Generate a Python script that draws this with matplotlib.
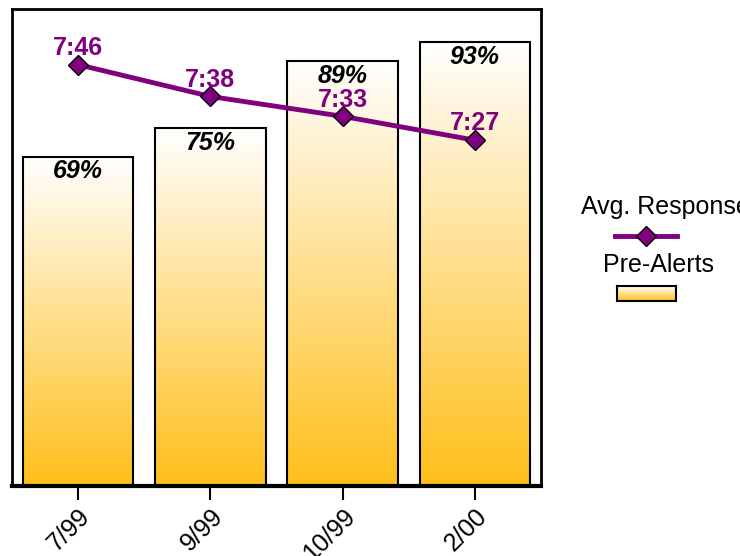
import matplotlib.pyplot as plt
import numpy as np
from matplotlib.lines import Line2D
from matplotlib.colors import LinearSegmentedColormap

plt.rcParams['font.family'] = ['Liberation Sans', 'DejaVu Sans']

months = ['7/99', '9/99', '10/99', '2/00']
pre_alerts = [69, 75, 89, 93]
avg_response = ['7:46', '7:38', '7:33', '7:27']

def to_sec(t):
    m, s = t.split(':')
    return int(m)*60 + int(s)

resp_sec = [to_sec(t) for t in avg_response]
purple = '#800080'
cmap = LinearSegmentedColormap.from_list('grad', ['#FFFFFF', '#FFBF1A'])

fig = plt.figure(figsize=(7.4, 5.56), dpi=100)
ax = fig.add_axes([12/740, 70/556, 529/740, 477/556])
x = np.arange(len(months))

bars = ax.bar(x, pre_alerts, width=0.835, facecolor='none', edgecolor='black', linewidth=1.5, zorder=3)
# white at top, orange at bottom of each bar
grad = np.linspace(0, 1, 256).reshape(-1, 1)
for b in bars:
    x0, y0, w, h = b.get_x(), b.get_y(), b.get_width(), b.get_height()
    im = ax.imshow(grad, cmap=cmap, aspect='auto', origin='upper',
                   extent=[x0, x0+w, y0, y0+h], zorder=2)
    im.set_clip_path(b)

for xi, v in zip(x, pre_alerts):
    ax.text(xi, v - 0.5, f'{v}%', ha='center', va='top', fontsize=18, fontweight='bold',
            fontstyle='italic', color='black', zorder=5)

ax.set_xlim(-0.5, 3.5)
ax.set_ylim(0, 100)
ax.set_xticks(x)
ax.set_xticklabels(months, rotation=45, ha='right', rotation_mode='anchor', fontsize=18)
ax.tick_params(axis='x', length=10, width=1.5, pad=3)
ax.set_yticks([])
for s in ax.spines.values():
    s.set_linewidth(2)
ax.spines['bottom'].set_linewidth(3)

ax2 = ax.twinx()
ax2.set_ylim(360, 480)
ax2.plot(x, resp_sec, color=purple, linewidth=3.5, marker='D', markersize=10,
         markerfacecolor=purple, markeredgecolor='black', markeredgewidth=1, zorder=6)
for xi, v, lab in zip(x, resp_sec, avg_response):
    ax2.annotate(lab, (xi, v), xytext=(0, 7), textcoords='offset points', ha='center', va='baseline',
                 fontsize=18, fontweight='bold', color=purple, zorder=7)
ax2.set_yticks([])
ax2.set_xlim(-0.5, 3.5)
for s in ax2.spines.values():
    s.set_visible(False)

# legend, labels above handles
fig.text(581/740, 1 - 207/556, 'Avg. Response', ha='left', va='center', fontsize=18)
fig.add_artist(Line2D([615/740, 677/740], [1 - 236/556]*2, color=purple, linewidth=3.5))
fig.add_artist(Line2D([646/740], [1 - 236/556], marker='D', markersize=10, color=purple,
                      markeredgecolor='black', markeredgewidth=1))
fig.text(603/740, 1 - 265/556, 'Pre-Alerts', ha='left', va='center', fontsize=18)
leg_box = fig.add_axes([617/740, 1 - 301/556, 59/740, 15/556])
leg_box.imshow(grad, cmap=cmap, aspect='auto', origin='upper', extent=[0, 1, 0, 1])
leg_box.set_xticks([])
leg_box.set_yticks([])
for s in leg_box.spines.values():
    s.set_linewidth(1.5)

fig.savefig('out.png', dpi=100)
